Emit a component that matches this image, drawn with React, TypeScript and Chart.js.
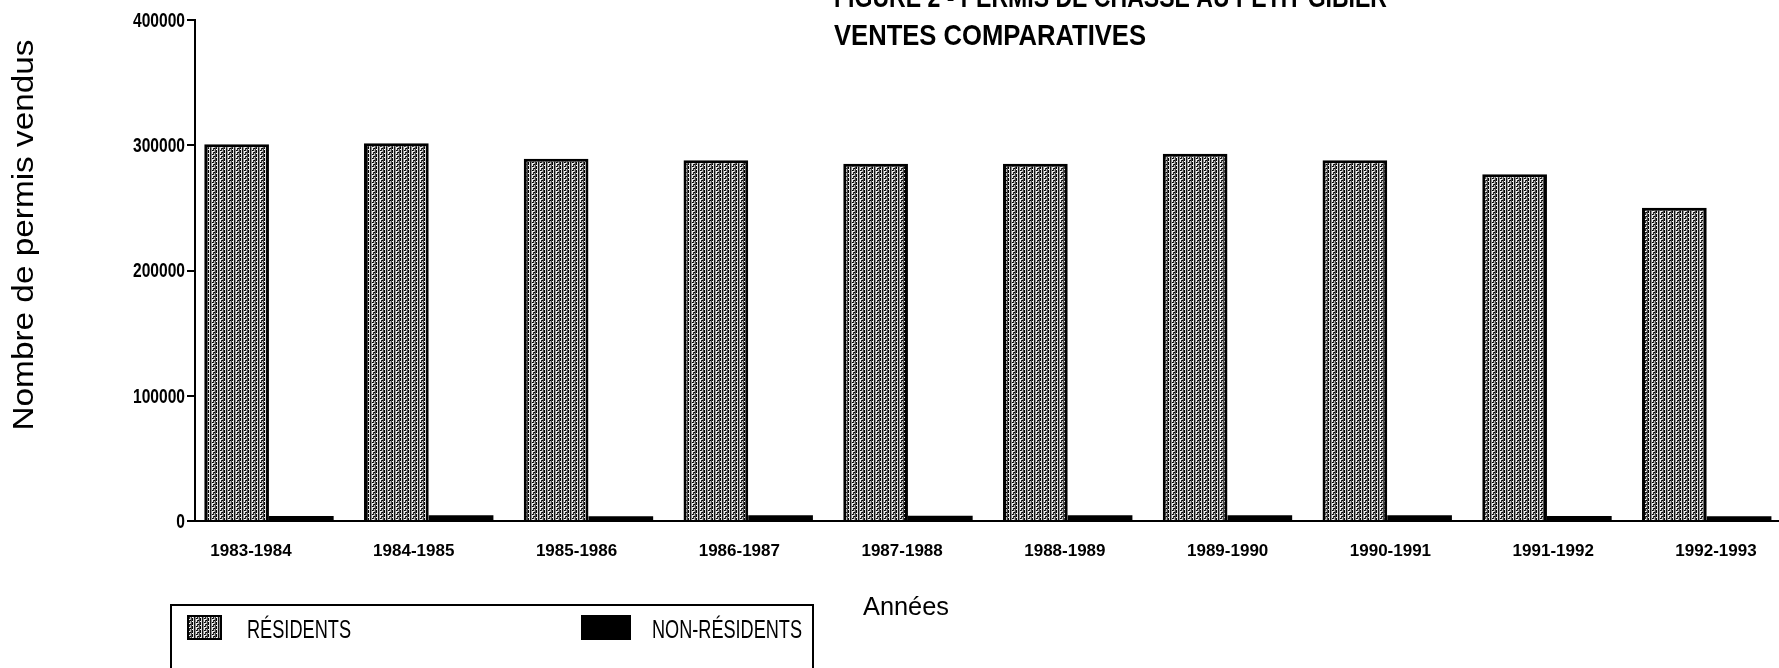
import React, { useEffect, useRef } from 'react';
import { Chart, registerables } from 'chart.js';

Chart.register(...registerables);

const categories = [
  '1983-1984', '1984-1985', '1985-1986', '1986-1987', '1987-1988',
  '1988-1989', '1989-1990', '1990-1991', '1991-1992', '1992-1993',
];
const residents = [300800, 301600, 289300, 288000, 285300, 285300, 293300, 288000, 276800, 250100];
const nonResidents = [4000, 4500, 3800, 4500, 4200, 4500, 4500, 4500, 4000, 3800];
const seriesLabels = ['RÉSIDENTS', 'NON-RÉSIDENTS'];
const yMin = 0;
const yMax = 400000;
const yStep = 100000;
const titleLines = ['FIGURE 2 - PERMIS DE CHASSE AU PETIT GIBIER', 'VENTES COMPARATIVES'];
const xTitle = 'Années';
const yTitle = 'Nombre de permis vendus';

const FONT = "'Liberation Sans', Arial, Helvetica, sans-serif";

function makePattern(): CanvasPattern | string {
  const c = document.createElement('canvas');
  c.width = 8;
  c.height = 4;
  const g = c.getContext('2d');
  if (!g) return '#8c8c8c';
  const cols = ['#050505', '#dcdcdc', '#161616', '#8c8c8c', '#eeeeee', '#2a2a2a', '#b8b8b8', '#464646'];
  cols.forEach((col, i) => {
    g.fillStyle = col;
    g.fillRect(i, 0, 1, 4);
  });
  g.fillStyle = '#ffffff';
  g.fillRect(0, 1, 1, 1);
  g.fillRect(5, 3, 1, 1);
  g.fillStyle = '#000000';
  g.fillRect(4, 2, 1, 1);
  g.fillRect(6, 0, 1, 1);
  return g.createPattern(c, 'repeat') || '#8c8c8c';
}

function fitText(
  ctx: CanvasRenderingContext2D,
  text: string,
  x: number,
  y: number,
  font: string,
  targetWidth: number,
  align: 'left' | 'center' | 'right',
  rotate = false,
  baseline: CanvasTextBaseline = 'alphabetic',
) {
  ctx.save();
  ctx.font = font;
  ctx.fillStyle = '#000';
  const w = ctx.measureText(text).width;
  const sx = targetWidth / w;
  ctx.translate(x, y);
  if (rotate) ctx.rotate(-Math.PI / 2);
  ctx.scale(sx, 1);
  ctx.textAlign = align;
  ctx.textBaseline = rotate ? 'middle' : baseline;
  ctx.fillText(text, 0, 0);
  ctx.restore();
}

const decorPlugin = {
  id: 'decor',
  afterDraw(chart: any) {
    const ctx: CanvasRenderingContext2D = chart.ctx;
    // y tick labels (condensed like the scan)
    const ys = chart.scales.y;
    const yFont = `bold 21px ${FONT}`;
    ctx.save();
    ctx.font = yFont;
    const ref = ctx.measureText(String(yMax)).width;
    ctx.restore();
    const sxY = 52 / ref;
    for (let v = yMin; v <= yMax; v += yStep) {
      ctx.save();
      ctx.font = yFont;
      ctx.fillStyle = '#000';
      ctx.translate(185, ys.getPixelForValue(v) + 1);
      ctx.scale(sxY, 1);
      ctx.textAlign = 'right';
      ctx.textBaseline = 'middle';
      ctx.fillText(String(v), 0, 0);
      ctx.restore();
    }
    // titles
    fitText(ctx, titleLines[0], 834, 7, `bold 29px ${FONT}`, 553, 'left');
    fitText(ctx, titleLines[1], 834, 45, `bold 30px ${FONT}`, 312, 'left');
    // axis titles
    fitText(ctx, xTitle, 906, 615, `26px ${FONT}`, 86, 'center');
    fitText(ctx, yTitle, 25, 235, `30px ${FONT}`, 391, 'center', true);
    // legend box
    ctx.save();
    ctx.strokeStyle = '#000';
    ctx.lineWidth = 2;
    ctx.strokeRect(171, 605, 642, 70);
    const ds = chart.data.datasets;
    ctx.fillStyle = ds[0].backgroundColor;
    ctx.fillRect(187, 615, 35, 25);
    ctx.strokeRect(188, 616, 33, 23);
    ctx.fillStyle = ds[1].backgroundColor;
    ctx.fillRect(581, 615, 50, 25);
    ctx.restore();
    fitText(ctx, ds[0].label, 247, 638, `26px ${FONT}`, 104, 'left');
    fitText(ctx, ds[1].label, 652, 638, `26px ${FONT}`, 150, 'left');
  },
};

export default function App() {
  const ref = useRef<HTMLCanvasElement | null>(null);

  useEffect(() => {
    if (!ref.current) return;
    const pattern = makePattern();
    const chart = new Chart(ref.current, {
      type: 'bar',
      data: {
        datasets: [
          {
            label: seriesLabels[0],
            data: residents.map((v, i) => ({ x: i, y: v })),
            backgroundColor: pattern as any,
            borderColor: '#000',
            borderWidth: 3,
            barPercentage: 1,
            categoryPercentage: 0.81,
          },
          {
            label: seriesLabels[1],
            data: nonResidents.map((v, i) => ({ x: i, y: v })),
            backgroundColor: '#000',
            borderWidth: 0,
            barPercentage: 1,
            categoryPercentage: 0.81,
          },
        ],
      },
      options: {
        animation: false,
        responsive: false,
        maintainAspectRatio: false,
        layout: { padding: { left: 0, right: 15, top: 20, bottom: 0 } },
        plugins: {
          legend: { display: false },
          title: { display: false },
          tooltip: { enabled: false },
        },
        scales: {
          x: {
            type: 'linear',
            offset: false,
            min: -0.463,
            max: 9.49,
            weight: 0,
            grid: { display: false, drawTicks: false },
            border: { display: true, color: '#000', width: 2 },
            ticks: { display: false, stepSize: 1, includeBounds: false },
            afterFit: (s: any) => {
              s.height = 0;
            },
          },
          xl: {
            type: 'linear',
            position: 'bottom',
            offset: false,
            min: -0.344,
            max: 9.424,
            weight: 1,
            grid: { display: false, drawTicks: false },
            border: { display: false },
            ticks: {
              stepSize: 1,
              includeBounds: false,
              color: '#000',
              font: { family: FONT, size: 17, weight: 'bold' },
              padding: 20,
              maxRotation: 0,
              autoSkip: false,
              callback: (v: any) => (Number.isInteger(v) && categories[v] ? categories[v] : ''),
            },
            afterFit: (s: any) => {
              s.height = 147;
            },
          },
          y: {
            min: yMin,
            max: yMax,
            ticks: { display: false, stepSize: yStep },
            grid: {
              drawOnChartArea: false,
              drawTicks: true,
              tickLength: 8,
              color: '#000',
              lineWidth: 2,
            },
            border: { display: true, color: '#000', width: 2 },
            afterFit: (s: any) => {
              s.width = 195;
            },
          },
        },
      },
      plugins: [decorPlugin],
    });
    return () => chart.destroy();
  }, []);

  return (
    <div
      style={{
        position: 'fixed',
        left: 0,
        top: 0,
        width: 1779,
        height: 668,
        overflow: 'hidden',
        background: '#fff',
      }}
    >
      <canvas ref={ref} width={1800} height={668} style={{ width: 1800, height: 668, display: 'block' }} />
    </div>
  );
}
